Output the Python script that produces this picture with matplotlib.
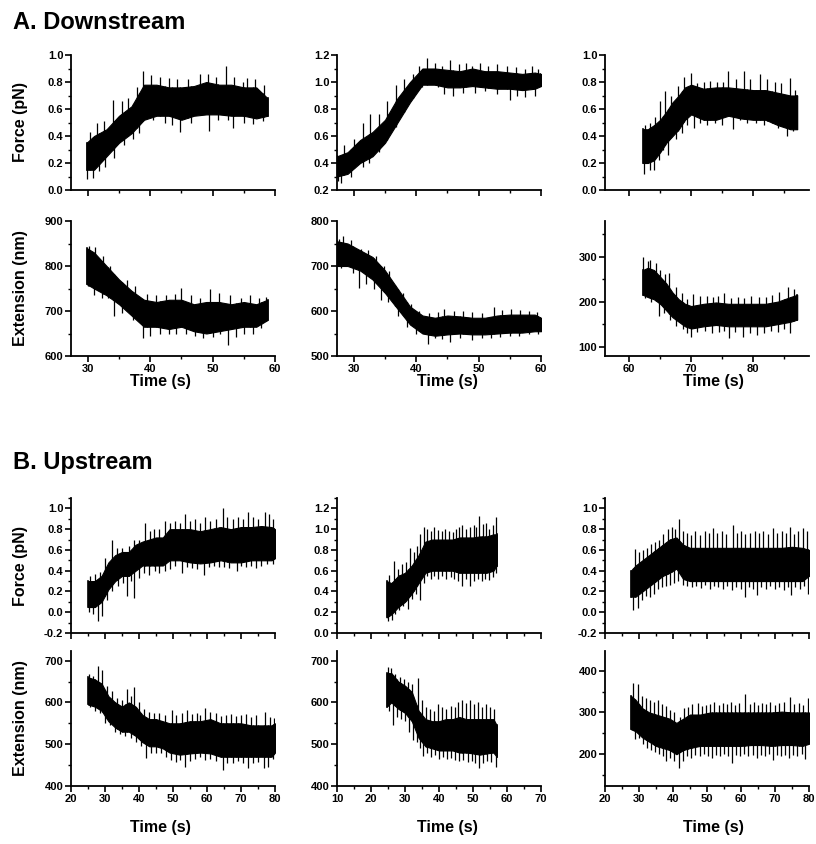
import matplotlib
matplotlib.use("Agg")
import matplotlib.pyplot as plt
import numpy as np
from matplotlib.ticker import MultipleLocator

plt.rcParams['font.family'] = ['Liberation Sans', 'DejaVu Sans']
plt.rcParams['font.weight'] = 'bold'
plt.rcParams['axes.unicode_minus'] = False

# ---- data: core band (lo/hi) plus visible spikes ----
# A. Downstream, trace 1
a1_t = [29.8, 31, 33, 35, 37, 39, 41, 43, 45, 47, 49, 51, 53, 55, 57, 58.8]
a1_f_lo = [0.15, 0.15, 0.25, 0.35, 0.42, 0.52, 0.55, 0.55, 0.52, 0.55, 0.56, 0.56, 0.55, 0.55, 0.53, 0.55]
a1_f_hi = [0.35, 0.40, 0.45, 0.55, 0.62, 0.78, 0.78, 0.76, 0.76, 0.77, 0.80, 0.78, 0.78, 0.76, 0.76, 0.68]
a1_f_up = [(30.3, 0.43), (31.5, 0.50), (32.6, 0.51), (34, 0.67), (35.5, 0.66), (36.5, 0.68),
           (37.8, 0.76), (38.8, 0.88), (40.2, 0.85), (41.5, 0.84), (43, 0.83), (44.3, 0.82),
           (46, 0.82), (47.9, 0.86), (49.2, 0.86), (50.5, 0.84), (52.1, 0.92), (53.5, 0.84),
           (54.8, 0.80), (55.5, 0.83), (56.8, 0.82), (58.2, 0.78)]
a1_f_dn = [(29.8, 0.08), (30.8, 0.09), (31.8, 0.14), (32.7, 0.17), (34.2, 0.24), (35.8, 0.33),
           (37.2, 0.38), (38.2, 0.42), (40.5, 0.52), (42.3, 0.50), (43.5, 0.48), (44.7, 0.43),
           (46.5, 0.50), (49.4, 0.44), (50.8, 0.52), (52.4, 0.52), (53.2, 0.46), (55, 0.50),
           (56.5, 0.49), (58, 0.51)]
a1_e_lo = [760, 750, 735, 715, 690, 665, 665, 660, 665, 655, 650, 655, 660, 665, 665, 680]
a1_e_hi = [840, 830, 800, 770, 745, 725, 720, 725, 725, 715, 720, 720, 715, 720, 715, 725]
a1_e_up = [(30.2, 845), (31.2, 843), (32.5, 822), (33.5, 800), (35, 770), (36.2, 770),
           (37.5, 755), (39.5, 738), (41, 735), (42.5, 735), (44, 738), (45, 752), (46.5, 735),
           (48, 730), (49.6, 750), (51, 740), (52.8, 735), (54.5, 728), (56, 735), (57.5, 728),
           (58.6, 732)]
a1_e_dn = [(30.1, 755), (31, 735), (32.2, 730), (33.2, 728), (34.2, 690), (35.5, 695),
           (37.2, 680), (38.9, 640), (40, 645), (41.5, 650), (43, 648), (44.2, 650),
           (45.8, 650), (47.2, 645), (48.5, 641), (50, 642), (51.2, 648), (52.4, 625),
           (53.8, 643), (55, 648), (56.4, 650), (57.8, 662)]

# A. Downstream, trace 2
a2_t = [27.3, 29, 31, 33, 35, 37, 39, 41, 43, 45, 47, 49, 51, 53, 55, 57, 59, 60]
a2_f_lo = [0.30, 0.32, 0.40, 0.45, 0.55, 0.70, 0.85, 0.98, 0.98, 0.96, 0.96, 0.97, 0.96, 0.95, 0.95, 0.94, 0.95, 0.97]
a2_f_hi = [0.45, 0.48, 0.57, 0.63, 0.72, 0.88, 1.00, 1.10, 1.10, 1.09, 1.08, 1.10, 1.08, 1.08, 1.07, 1.06, 1.07, 1.06]
a2_f_up = [(28.5, 0.53), (30, 0.58), (31.5, 0.70), (32.6, 0.76), (34, 0.76), (35.3, 0.86),
           (36.8, 0.98), (38, 1.02), (39.5, 1.06), (40.5, 1.12), (41.7, 1.18), (43, 1.14),
           (44.2, 1.12), (45.4, 1.16), (46.8, 1.13), (48, 1.14), (49, 1.12), (50.2, 1.14),
           (51.5, 1.12), (53, 1.13), (54.5, 1.12), (56, 1.11), (57.5, 1.10), (58.5, 1.12),
           (59.5, 1.10)]
a2_f_dn = [(27.5, 0.27), (28, 0.25), (29.5, 0.30), (31.4, 0.37), (32.5, 0.40), (34, 0.48),
           (35.5, 0.60), (36.7, 0.67), (38, 0.78), (39.5, 0.88), (41, 0.96), (43.5, 0.96),
           (44.5, 0.91), (45.9, 0.90), (47.5, 0.92), (49.5, 0.92), (51, 0.93), (53, 0.91),
           (55, 0.87), (56.2, 0.90), (57.5, 0.89), (59, 0.90)]
a2_e_lo = [700, 700, 690, 670, 640, 605, 570, 550, 545, 548, 550, 548, 548, 550, 552, 552, 555, 555]
a2_e_hi = [755, 750, 735, 720, 690, 650, 610, 590, 585, 590, 588, 585, 585, 590, 592, 592, 592, 585]
a2_e_up = [(27.6, 760), (28.2, 766), (29.5, 758), (31.2, 737), (32.2, 735), (33.5, 722),
           (34.8, 700), (35.6, 690), (36.6, 658), (37.8, 640), (39.2, 615), (40.5, 600),
           (42, 595), (43.5, 598), (44.5, 605), (46, 600), (47.5, 600), (49, 598), (50.5, 595),
           (52.4, 610), (53.8, 602), (55.2, 605), (56.6, 602), (58, 600), (59.4, 598)]
a2_e_dn = [(28, 695), (29.8, 685), (30.9, 651), (32, 660), (33.2, 650), (34.4, 625), (35.5, 620),
           (37, 590), (38.5, 565), (40, 550), (41.9, 526), (43, 540), (44.2, 538), (45.4, 531),
           (47, 540), (49, 535), (50.5, 540), (52, 540), (53.5, 542), (55, 545), (56.5, 545),
           (58, 548), (59.5, 550)]

# A. Downstream, trace 3
a3_t = [62.2, 63, 64, 65, 66, 67, 68, 69, 70, 72, 74, 76, 78, 80, 82, 84, 86, 87.1]
a3_f_lo = [0.20, 0.20, 0.22, 0.28, 0.35, 0.40, 0.45, 0.52, 0.56, 0.52, 0.52, 0.55, 0.53, 0.52, 0.52, 0.48, 0.45, 0.45]
a3_f_hi = [0.45, 0.45, 0.48, 0.52, 0.58, 0.65, 0.70, 0.76, 0.78, 0.75, 0.76, 0.76, 0.75, 0.74, 0.74, 0.72, 0.70, 0.70]
a3_f_up = [(62.5, 0.48), (63.4, 0.50), (64.2, 0.54), (65, 0.66), (65.8, 0.73), (66.8, 0.70),
           (67.8, 0.77), (68.8, 0.84), (70, 0.87), (71, 0.79), (72, 0.80), (73, 0.81), (74.2, 0.80),
           (75.2, 0.80), (76, 0.88), (77.2, 0.82), (78.5, 0.88), (79.5, 0.82), (81.1, 0.86),
           (82.3, 0.82), (83.5, 0.80), (84.5, 0.79), (86, 0.83), (86.8, 0.74)]
a3_f_dn = [(62.4, 0.12), (63.3, 0.15), (64, 0.15), (64.8, 0.22), (65.5, 0.30), (66.3, 0.26),
           (67.5, 0.38), (68.5, 0.42), (69.3, 0.48), (70.4, 0.46), (71.5, 0.50), (72.6, 0.48),
           (73.8, 0.50), (75, 0.48), (76.8, 0.45), (77.8, 0.52), (79, 0.50), (80.5, 0.50),
           (81.8, 0.48), (83, 0.50), (84, 0.46), (85.4, 0.40), (86.5, 0.44)]
a3_e_lo = [215, 210, 205, 195, 180, 165, 155, 145, 140, 145, 148, 145, 145, 145, 145, 150, 155, 160]
a3_e_hi = [270, 275, 270, 255, 240, 220, 205, 195, 190, 195, 198, 195, 195, 195, 195, 200, 210, 215]
a3_e_up = [(62.3, 298), (63, 290), (63.3, 293), (64.3, 285), (65, 270), (65.8, 262), (66.5, 264),
           (67.5, 232), (68.5, 218), (69.3, 205), (70.3, 217), (71.5, 212), (72.5, 213),
           (73.5, 210), (74.3, 212), (75.3, 220), (76.5, 208), (77.5, 210), (78.5, 208),
           (79.7, 212), (81, 210), (82, 210), (83, 215), (84.2, 222), (85.6, 232), (86.6, 228)]
a3_e_dn = [(62.6, 208), (63.5, 200), (64.8, 167), (65.6, 175), (66.6, 160), (67.6, 145),
           (68.6, 140), (69.4, 130), (70, 121), (71, 132), (72.2, 135), (73.3, 130),
           (74.5, 132), (75.3, 135), (76.1, 119), (77, 132), (78.4, 121), (79.5, 130),
           (80.6, 125), (81.7, 130), (82.8, 135), (84, 132), (85, 140), (86, 130)]

# B. Upstream, trace 1
b1_t = [25, 27, 29, 31, 33, 35, 37, 39, 41, 43, 45, 47, 49, 52, 55, 58, 61, 64, 67, 70, 73, 76, 79, 80]
b1_f_lo = [0.05, 0.05, 0.10, 0.22, 0.30, 0.35, 0.35, 0.40, 0.45, 0.45, 0.45, 0.45, 0.50, 0.50,
           0.48, 0.47, 0.48, 0.50, 0.48, 0.48, 0.50, 0.50, 0.50, 0.52]
b1_f_hi = [0.30, 0.30, 0.35, 0.48, 0.55, 0.58, 0.58, 0.65, 0.68, 0.70, 0.72, 0.72, 0.80, 0.80,
           0.80, 0.78, 0.80, 0.82, 0.80, 0.82, 0.82, 0.83, 0.82, 0.80]
b1_f_up = [(25.5, 0.35), (27, 0.37), (28.5, 0.39), (30, 0.52), (32, 0.70), (33.5, 0.62),
           (35, 0.62), (37, 0.64), (38.5, 0.70), (40, 0.70), (41.8, 0.86), (43.2, 0.78),
           (44.5, 0.80), (46, 0.80), (47.5, 0.88), (49, 0.86), (50.5, 0.88), (52, 0.86),
           (53.5, 0.95), (55, 0.88), (56.5, 0.90), (58, 0.86), (59.5, 0.92), (61, 0.88),
           (62.5, 0.90), (64.6, 1.0), (66, 0.92), (67.5, 0.90), (69, 0.92), (70.5, 0.90),
           (72.2, 0.97), (73.6, 0.92), (75, 0.90), (77.1, 0.97), (78.3, 0.95), (79.5, 0.90)]
b1_f_dn = [(25.3, 0.0), (26.5, -0.02), (27.8, -0.08), (29, -0.04), (30.5, 0.12), (32.2, 0.20),
           (33.8, 0.25), (35.2, 0.28), (36.4, 0.16), (37.5, 0.30), (38.6, 0.14), (40, 0.33),
           (41.5, 0.38), (43, 0.36), (44.6, 0.40), (46, 0.38), (47.5, 0.40), (49, 0.42),
           (50.5, 0.45), (52.5, 0.38), (54, 0.44), (55.5, 0.43), (57, 0.42), (59.1, 0.36),
           (60.5, 0.44), (62, 0.45), (63.5, 0.44), (65, 0.44), (66.5, 0.43), (68.7, 0.40),
           (70, 0.45), (71.5, 0.44), (73, 0.45), (74.5, 0.43), (76, 0.45), (77.5, 0.46),
           (79.3, 0.46)]
b1_e_lo = [595, 590, 580, 555, 540, 530, 530, 520, 505, 495, 495, 490, 480, 475,
           478, 480, 478, 470, 470, 470, 470, 470, 470, 480]
b1_e_hi = [660, 655, 645, 615, 600, 590, 600, 590, 570, 560, 560, 555, 550, 550,
           555, 555, 560, 550, 550, 550, 545, 545, 545, 550]
b1_e_up = [(25.3, 668), (26.5, 662), (27.8, 687), (29.2, 678), (30.5, 640), (32, 628),
           (33.5, 610), (35, 605), (36.4, 631), (37.5, 615), (38.6, 636), (40, 600), (41.5, 585),
           (43, 578), (44.5, 575), (46, 575), (47.5, 570), (49.8, 582), (51, 570), (52.5, 575),
           (54, 582), (55.5, 572), (57, 575), (58, 570), (59.4, 586), (61, 578), (62.5, 575),
           (64, 568), (65.5, 570), (67, 572), (68.5, 568), (70, 570), (71.5, 572), (73, 565),
           (74.5, 570), (77, 578), (78.5, 565), (79.7, 562)]
b1_e_dn = [(25.5, 590), (27, 580), (28.5, 575), (30, 550), (31.5, 545), (33, 530), (34.5, 525),
           (36, 520), (37.5, 515), (39, 505), (40.5, 495), (42, 468), (43.5, 480), (45, 478),
           (46.5, 478), (48, 470), (49.5, 462), (51, 458), (52.2, 462), (53.5, 446),
           (55, 460), (56.5, 465), (58, 470), (59.5, 462), (61, 465), (62.5, 460),
           (64.8, 438), (66, 455), (67.5, 455), (69, 460), (70.5, 455), (72.2, 442),
           (73.5, 455), (75, 458), (76.9, 444), (78, 445), (79.5, 465)]

# B. Upstream, trace 2
b2_t = [24.6, 26, 28, 30, 32, 34, 36, 38, 40, 42, 44, 46, 48, 50, 52, 54, 56, 57]
b2_f_lo = [0.15, 0.18, 0.25, 0.30, 0.38, 0.48, 0.58, 0.60, 0.60, 0.60, 0.60, 0.58, 0.58, 0.58, 0.58, 0.58, 0.60, 0.65]
b2_f_hi = [0.50, 0.48, 0.55, 0.58, 0.65, 0.75, 0.88, 0.90, 0.90, 0.90, 0.90, 0.92, 0.92, 0.92, 0.93, 0.93, 0.95, 0.95]
b2_f_up = [(25.2, 0.56), (26.7, 0.69), (28, 0.62), (29.2, 0.66), (30.3, 0.68), (31.4, 0.82),
           (32.5, 0.78), (33.5, 0.84), (34.5, 0.95), (35.5, 1.02), (36.5, 1.00), (37.5, 0.98),
           (38.6, 1.02), (39.6, 0.99), (40.8, 0.98), (41.8, 1.0), (42.8, 0.98), (44, 0.97),
           (45, 1.0), (46, 1.02), (46.8, 1.04), (48, 1.0), (49, 1.02), (50.2, 1.04), (51, 1.02),
           (51.7, 1.13), (52.8, 1.05), (53.8, 1.06), (54.8, 1.0), (55.8, 1.04), (56.9, 1.12)]
b2_f_dn = [(24.9, 0.12), (26.2, 0.13), (27.2, 0.18), (28.3, 0.22), (29.5, 0.26), (30.9, 0.23),
           (32, 0.33), (33.2, 0.38), (34.3, 0.32), (35.5, 0.48), (36.5, 0.55), (37.6, 0.52),
           (38.6, 0.55), (39.8, 0.52), (41, 0.55), (42.2, 0.52), (43.4, 0.54), (44.5, 0.52),
           (45.6, 0.50), (46.8, 0.45), (48, 0.52), (49.2, 0.45), (50.3, 0.50), (51.4, 0.52),
           (52.5, 0.50), (53.6, 0.52), (54.7, 0.51), (55.8, 0.54), (56.7, 0.58)]
b2_e_lo = [590, 600, 585, 575, 555, 515, 495, 490, 485, 485, 485, 480, 480, 478, 475, 478, 480, 470]
b2_e_hi = [670, 670, 650, 640, 625, 580, 560, 555, 555, 560, 560, 565, 560, 560, 560, 560, 560, 545]
b2_e_up = [(24.9, 684), (26, 683), (27.2, 668), (28.5, 660), (29.8, 655), (31, 650), (32, 645),
           (33.7, 658), (35, 605), (36.2, 590), (37.4, 585), (38.6, 580), (39.8, 595), (41, 590),
           (42.2, 585), (43.4, 592), (44.6, 590), (45.6, 600), (46.8, 606), (48, 598),
           (49.2, 606), (50.4, 595), (51.5, 600), (52.6, 590), (53.8, 595), (55, 590),
           (56.2, 585)]
b2_e_dn = [(25.3, 580), (26.4, 547), (27.5, 565), (28.8, 560), (30, 555), (31.2, 530),
           (32.4, 510), (33.4, 505), (34.3, 490), (35.2, 471), (36.4, 478), (37.6, 470),
           (38.8, 475), (40, 465), (41.2, 470), (42.4, 465), (43.6, 468), (44.8, 462),
           (46, 460), (47.2, 462), (48.4, 458), (49.6, 460), (50.6, 455), (51.7, 443),
           (52.8, 455), (54, 460), (55.2, 458), (56.9, 446)]

# B. Upstream, trace 3
b3_t = [27.6, 29, 31, 33, 35, 37, 39, 41, 43, 45, 48, 51, 54, 57, 60, 63, 66, 69, 72, 75, 78, 80]
b3_f_lo = [0.15, 0.15, 0.20, 0.25, 0.30, 0.35, 0.38, 0.42, 0.32, 0.30, 0.30, 0.30, 0.30,
           0.30, 0.30, 0.30, 0.30, 0.30, 0.30, 0.30, 0.30, 0.35]
b3_f_hi = [0.40, 0.45, 0.50, 0.55, 0.60, 0.65, 0.70, 0.72, 0.65, 0.62, 0.62, 0.62, 0.62,
           0.62, 0.62, 0.62, 0.62, 0.62, 0.62, 0.63, 0.62, 0.60]
b3_f_up = [(28.8, 0.61), (30, 0.58), (31.2, 0.60), (32.4, 0.62), (33.6, 0.66), (34.8, 0.68),
           (36, 0.70), (37.2, 0.75), (38.4, 0.80), (39.6, 0.82), (40.6, 0.80), (41.7, 0.90),
           (42.8, 0.78), (44, 0.76), (45.3, 0.74), (46.6, 0.78), (48, 0.74), (49.3, 0.78),
           (50.6, 0.76), (51.8, 0.81), (53, 0.76), (54.3, 0.78), (55.6, 0.75), (57.5, 0.84),
           (58.8, 0.76), (60, 0.78), (61.3, 0.75), (62.6, 0.76), (64, 0.78), (65.3, 0.76),
           (66.6, 0.78), (68, 0.75), (69.4, 0.81), (70.6, 0.76), (72, 0.78), (73.2, 0.76),
           (74.3, 0.82), (75.6, 0.75), (76.8, 0.78), (78.2, 0.81), (79.5, 0.78)]
b3_f_dn = [(28.3, 0.02), (29.6, 0.04), (30.8, 0.12), (32, 0.16), (33.2, 0.15), (34.4, 0.18),
           (35.6, 0.22), (36.8, 0.24), (38, 0.25), (39.2, 0.26), (40.4, 0.28), (41.6, 0.30),
           (43, 0.26), (44.2, 0.25), (45.5, 0.24), (46.9, 0.25), (48.2, 0.23), (49.5, 0.26),
           (50.8, 0.22), (52, 0.25), (53.3, 0.24), (54.6, 0.22), (56, 0.25), (57.3, 0.21),
           (58.6, 0.24), (59.9, 0.22), (61.1, 0.15), (62.4, 0.24), (63.6, 0.22),
           (64.7, 0.17), (66, 0.24), (67.3, 0.22), (68.6, 0.25), (70, 0.22), (71.3, 0.24),
           (72.6, 0.21), (73.8, 0.24), (74.8, 0.17), (76, 0.24), (77.3, 0.22), (78.6, 0.25),
           (79.7, 0.18)]
b3_e_lo = [260, 255, 240, 230, 220, 215, 210, 200, 210, 215, 220, 220, 220,
           220, 220, 222, 222, 220, 222, 222, 220, 225]
b3_e_hi = [340, 330, 310, 300, 295, 290, 285, 275, 285, 295, 295, 300, 300,
           300, 300, 300, 300, 300, 302, 300, 300, 300]
b3_e_up = [(28.3, 371), (29.6, 367), (30.8, 340), (32, 335), (33.2, 330), (34.4, 325),
           (35.6, 330), (36.8, 320), (38, 315), (39.2, 305), (40.4, 300), (42, 290),
           (43.2, 310), (44.4, 312), (45.6, 320), (47.4, 323), (48.6, 315), (49.8, 318),
           (51, 320), (52.2, 325), (53.4, 318), (54.6, 322), (55.8, 320), (57, 325),
           (58.2, 318), (59.4, 322), (61.3, 343), (62.6, 320), (63.8, 325), (65, 318),
           (66.2, 322), (67.4, 320), (68.6, 325), (70, 318), (71.2, 322), (72.6, 325),
           (74.3, 338), (75.6, 320), (77, 322), (78.3, 318), (79.7, 334)]
b3_e_dn = [(28.8, 236), (30, 240), (31.2, 225), (32.4, 215), (33.6, 210), (34.8, 205),
           (36, 200), (37, 195), (37.9, 184), (39, 190), (40.4, 185), (41.7, 167), (43, 185),
           (44.2, 195), (45.4, 190), (46.6, 198), (47.8, 195), (49, 200), (50.2, 195),
           (51.4, 190), (52.6, 198), (53.8, 195), (55, 200), (56.2, 195), (57.4, 180),
           (58.6, 198), (59.8, 195), (61, 200), (62.2, 195), (63.4, 198), (64.6, 192),
           (65.8, 198), (67, 195), (68.2, 200), (69.4, 186), (70.6, 198), (71.8, 195),
           (73, 198), (74.2, 192), (75.4, 198), (76.6, 195), (77.8, 200), (78.9, 188)]

# axis limits / ticks per column
a_xlim = [(27.3, 60), (27.3, 60), (56.1, 89)]
b_xlim = [(20, 80), (10, 70), (20, 80)]
a_force_ylim = [(0, 1.0), (0.2, 1.2), (0, 1.0)]
a_ext_ylim = [(600, 900), (500, 800), (79, 379)]
b_force_ylim = [(-0.2, 1.1), (0, 1.3), (-0.2, 1.1)]
b_ext_ylim = [(400, 723), (400, 723), (124, 447)]
a_ext_ticks = [[600, 700, 800, 900], [500, 600, 700, 800], [100, 200, 300]]
b_ext_ticks = [[400, 500, 600, 700], [400, 500, 600, 700], [200, 300, 400]]
time_label_x = [0.44, 0.54, 0.53]

W, H = 816, 844
fig = plt.figure(figsize=(W / 100, H / 100), dpi=100)

col_left = [71, 337, 605]
col_w = 204


def make_ax(left, top, bottom):
    return fig.add_axes([left / W, 1 - bottom / H, col_w / W, (bottom - top) / H])


def style(ax, xlim, ylim, xmaj, xmin, ymaj, ymin, xlabels=True):
    ax.set_xlim(*xlim)
    ax.set_ylim(*ylim)
    for s in ['top', 'right']:
        ax.spines[s].set_visible(False)
    for s in ['left', 'bottom']:
        ax.spines[s].set_linewidth(1.3)
    ax.xaxis.set_major_locator(MultipleLocator(xmaj))
    ax.xaxis.set_minor_locator(MultipleLocator(xmin))
    if isinstance(ymaj, list):
        ax.set_yticks(ymaj)
    else:
        ax.yaxis.set_major_locator(MultipleLocator(ymaj))
    ax.yaxis.set_minor_locator(MultipleLocator(ymin))
    ax.tick_params(which='major', direction='out', length=4, width=1.2, labelsize=8, pad=1.5)
    ax.tick_params(which='minor', direction='out', length=2, width=1.0)
    if not xlabels:
        ax.tick_params(axis='x', labelbottom=False)
    for lab in ax.get_xticklabels() + ax.get_yticklabels():
        lab.set_fontweight('bold')


def trace(ax, t, lo, hi, up, dn):
    ax.fill_between(t, lo, hi, color='black', lw=0.8, edgecolor='black')
    ax.plot([t[0], t[0]], [lo[0], hi[0]], color='black', lw=1.2)
    ax.plot([t[-1], t[-1]], [lo[-1], hi[-1]], color='black', lw=1.2)
    ut = [p[0] for p in up]
    uv = [p[1] for p in up]
    dt = [p[0] for p in dn]
    dv = [p[1] for p in dn]
    ax.vlines(ut, np.interp(ut, t, lo), uv, color='black', lw=0.9)
    ax.vlines(dt, dv, np.interp(dt, t, hi), color='black', lw=0.9)


row_a = [
    (a1_t, a1_f_lo, a1_f_hi, a1_f_up, a1_f_dn, a1_e_lo, a1_e_hi, a1_e_up, a1_e_dn),
    (a2_t, a2_f_lo, a2_f_hi, a2_f_up, a2_f_dn, a2_e_lo, a2_e_hi, a2_e_up, a2_e_dn),
    (a3_t, a3_f_lo, a3_f_hi, a3_f_up, a3_f_dn, a3_e_lo, a3_e_hi, a3_e_up, a3_e_dn),
]
row_b = [
    (b1_t, b1_f_lo, b1_f_hi, b1_f_up, b1_f_dn, b1_e_lo, b1_e_hi, b1_e_up, b1_e_dn),
    (b2_t, b2_f_lo, b2_f_hi, b2_f_up, b2_f_dn, b2_e_lo, b2_e_hi, b2_e_up, b2_e_dn),
    (b3_t, b3_f_lo, b3_f_hi, b3_f_up, b3_f_dn, b3_e_lo, b3_e_hi, b3_e_up, b3_e_dn),
]

label_font = dict(fontsize=11.5, fontweight='bold')

for i in range(3):
    # row A
    t, flo, fhi, fup, fdn, elo, ehi, eup, edn = row_a[i]
    axf = make_ax(col_left[i], 55, 190)
    trace(axf, t, flo, fhi, fup, fdn)
    style(axf, a_xlim[i], a_force_ylim[i], 10, 5, 0.2, 0.1, xlabels=False)
    axe = make_ax(col_left[i], 221, 356)
    trace(axe, t, elo, ehi, eup, edn)
    style(axe, a_xlim[i], a_ext_ylim[i], 10, 5, a_ext_ticks[i], 50)
    axe.set_xlabel('Time (s)', **label_font)
    axe.xaxis.set_label_coords(time_label_x[i], -0.135)
    if i == 0:
        axf.set_ylabel('Force (pN)', **label_font)
        axe.set_ylabel('Extension (nm)', **label_font)
        axf.yaxis.set_label_coords(-0.21, 0.5)
        axe.yaxis.set_label_coords(-0.21, 0.5)

    # row B
    t, flo, fhi, fup, fdn, elo, ehi, eup, edn = row_b[i]
    axf = make_ax(col_left[i], 498, 633)
    trace(axf, t, flo, fhi, fup, fdn)
    style(axf, b_xlim[i], b_force_ylim[i], 10, 5, 0.2, 0.1, xlabels=False)
    axe = make_ax(col_left[i], 651, 786)
    trace(axe, t, elo, ehi, eup, edn)
    style(axe, b_xlim[i], b_ext_ylim[i], 10, 5, b_ext_ticks[i], 50)
    axe.set_xlabel('Time (s)', **label_font)
    axe.xaxis.set_label_coords(time_label_x[i], -0.25)
    if i == 0:
        axf.set_ylabel('Force (pN)', **label_font)
        axe.set_ylabel('Extension (nm)', **label_font)
        axf.yaxis.set_label_coords(-0.21, 0.5)
        axe.yaxis.set_label_coords(-0.21, 0.5)

fig.text(13 / W, 1 - 29 / H, 'A. Downstream', fontsize=17, fontweight='bold')
fig.text(13 / W, 1 - 469 / H, 'B. Upstream', fontsize=17, fontweight='bold')

fig.savefig('out.png', dpi=100)
